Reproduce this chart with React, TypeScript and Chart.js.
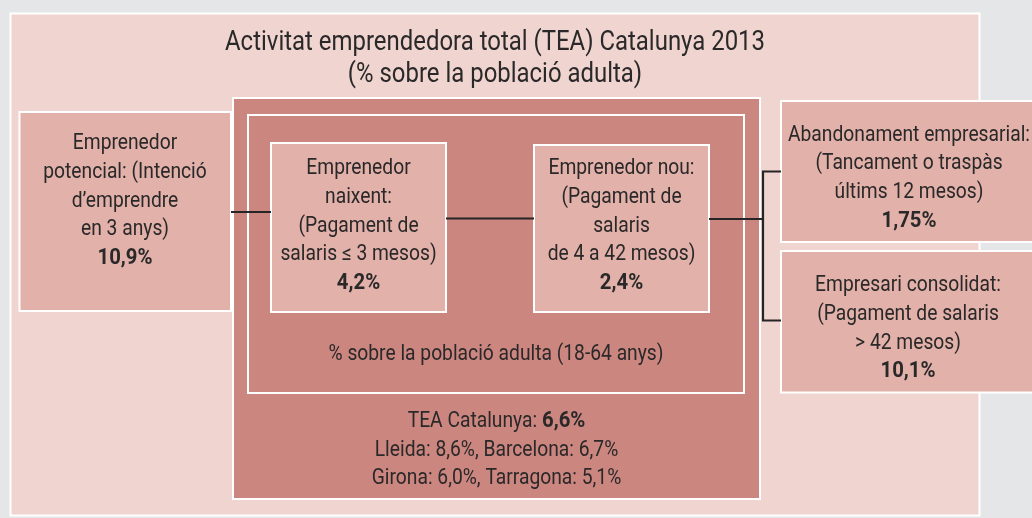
import React, { useEffect, useRef } from "react";
import { Chart, registerables } from "chart.js";

Chart.register(...registerables);

// ---------- data ----------
const titleLines = [
  "Activitat emprendedora total (TEA) Catalunya 2013",
  "(% sobre la població adulta)",
];
const potencialLines = ["Emprenedor", "potencial: (Intenció", "d\u2019emprendre", "en 3 anys)"];
const naixentLines = ["Emprenedor", "naixent:", "(Pagament de", "salaris \u2264 3 mesos)"];
const nouLines = ["Emprenedor nou:", "(Pagament de", "salaris", "de 4 a 42 mesos)"];
const abandonamentLines = ["Abandonament empresarial:", "(Tancament o traspàs", "últims 12 mesos)"];
const consolidatLines = ["Empresari consolidat:", "(Pagament de salaris", "> 42 mesos)"];
const stageNames = ["potencial", "naixent", "nou", "abandonament", "consolidat"];
const stageValues = [10.9, 4.2, 2.4, 1.75, 10.1];
const populationNote = "% sobre la població adulta (18-64 anys)";
const teaLabel = "TEA Catalunya: ";
const teaTotal = 6.6;
const provinces = ["Lleida", "Barcelona", "Girona", "Tarragona"];
const provinceValues = [8.6, 6.7, 6.0, 5.1];

// ---------- layout & style ----------
const W = 1032;
const H = 518;
const COLORS = {
  page: "#e5e6e8",
  light: "#efd4cf",
  mid: "#e1b1aa",
  dark: "#cc8680",
  border: "#ffffff",
  text: "#2a2828",
  line: "#262424",
};
const FONT = "Roboto, 'Liberation Sans', sans-serif";
const BOX_SIZE = 22;
const TITLE_SIZE = 28;
const LINE_GAP = 28.8;

type Box = { x0: number; y0: number; x1: number; y1: number; fill: string };
const boxes: Record<string, Box> = {
  outer: { x0: 10.5, y0: 13.5, x1: 979.5, y1: 515.5, fill: COLORS.light },
  tea: { x0: 233, y0: 98, x1: 760, y1: 499, fill: COLORS.dark },
  inner: { x0: 248, y0: 115, x1: 744, y1: 393, fill: COLORS.dark },
  potencial: { x0: 19.5, y0: 112, x1: 231, y1: 311, fill: COLORS.mid },
  naixent: { x0: 271, y0: 143, x1: 446, y1: 312, fill: COLORS.mid },
  nou: { x0: 534, y0: 145, x1: 709, y1: 312, fill: COLORS.mid },
  abandonament: { x0: 781, y0: 101, x1: 1045, y1: 242, fill: COLORS.mid },
  consolidat: { x0: 781, y0: 251, x1: 1045, y1: 392.5, fill: COLORS.mid },
};
const boxOrder = ["outer", "tea", "inner", "potencial", "naixent", "nou", "abandonament", "consolidat"];

const stageText: Record<string, { lines: string[]; cx: number; base: number }> = {
  potencial: { lines: potencialLines, cx: 125, base: 149 },
  naixent: { lines: naixentLines, cx: 358.5, base: 174 },
  nou: { lines: nouLines, cx: 621.5, base: 174 },
  abandonament: { lines: abandonamentLines, cx: 909, base: 140.5 },
  consolidat: { lines: consolidatLines, cx: 908, base: 291 },
};

// connectors: polylines in value space
const connectors: number[][][] = [
  [[231, 212], [271, 212]],
  [[446, 218.5], [534, 218.5]],
  [[709, 219], [763, 219]],
  [[781, 171.5], [763, 171.5], [763, 320.5], [781, 320.5]],
];

const fmt = (v: number) => {
  const d = Math.max(1, (String(v).split(".")[1] || "").length);
  return v.toFixed(d).replace(".", ",") + "%";
};

export default function App() {
  const ref = useRef<HTMLCanvasElement | null>(null);

  useEffect(() => {
    document.body.style.margin = "0";
    document.body.style.background = COLORS.page;
    const canvas = ref.current;
    if (!canvas) return;

    const diagramPlugin = {
      id: "teaDiagram",
      beforeDraw(chart: any) {
        const { ctx } = chart;
        ctx.save();
        ctx.fillStyle = COLORS.page;
        ctx.fillRect(0, 0, chart.width, chart.height);
        ctx.restore();
      },
      afterDraw(chart: any) {
        const { ctx } = chart;
        const xs = chart.scales.x;
        const ys = chart.scales.y;
        const px = (v: number) => xs.getPixelForValue(v);
        const py = (v: number) => ys.getPixelForValue(v);

        const regFont = (s: number) => `400 ${s}px ${FONT}`;
        const boldFont = (s: number) => `700 ${s}px ${FONT}`;

        ctx.save();
        ctx.font = regFont(BOX_SIZE);
        const sxReg = 242 / ctx.measureText(abandonamentLines[0]).width;
        ctx.font = boldFont(BOX_SIZE);
        const sxBold = 55 / ctx.measureText(fmt(stageValues[0])).width;
        ctx.font = regFont(TITLE_SIZE);
        const sxTitle = 540 / ctx.measureText(titleLines[0]).width;
        ctx.restore();

        // boxes
        boxOrder.forEach((k) => {
          const b = boxes[k];
          const x0 = px(b.x0), x1 = px(b.x1), y0 = py(b.y0), y1 = py(b.y1);
          ctx.save();
          ctx.fillStyle = b.fill;
          ctx.fillRect(x0, y0, x1 - x0, y1 - y0);
          ctx.strokeStyle = COLORS.border;
          ctx.lineWidth = 2;
          ctx.strokeRect(x0, y0, x1 - x0, y1 - y0);
          ctx.restore();
        });

        // connectors
        ctx.save();
        ctx.strokeStyle = COLORS.line;
        ctx.lineWidth = 2.2;
        connectors.forEach((pts) => {
          ctx.beginPath();
          pts.forEach((p, i) => {
            if (i === 0) ctx.moveTo(px(p[0]), py(p[1]));
            else ctx.lineTo(px(p[0]), py(p[1]));
          });
          ctx.stroke();
        });
        ctx.restore();

        const drawParts = (
          parts: { t: string; bold?: boolean }[],
          cx: number,
          base: number,
          size: number,
          sxR: number,
          sxB: number
        ) => {
          ctx.save();
          ctx.fillStyle = COLORS.text;
          ctx.textBaseline = "alphabetic";
          ctx.textAlign = "left";
          const widths = parts.map((p) => {
            ctx.font = p.bold ? boldFont(size) : regFont(size);
            return ctx.measureText(p.t).width * (p.bold ? sxB : sxR);
          });
          const total = widths.reduce((a, b) => a + b, 0);
          let x = px(cx) - total / 2;
          parts.forEach((p, i) => {
            ctx.font = p.bold ? boldFont(size) : regFont(size);
            ctx.save();
            ctx.translate(x, py(base));
            ctx.scale(p.bold ? sxB : sxR, 1);
            ctx.fillText(p.t, 0, 0);
            ctx.restore();
            x += widths[i];
          });
          ctx.restore();
        };

        // title
        drawParts([{ t: titleLines[0] }], 495, 49.5, TITLE_SIZE, sxTitle, sxTitle);
        drawParts([{ t: titleLines[1] }], 495, 81.5, TITLE_SIZE, sxTitle, sxTitle);

        // stage boxes
        stageNames.forEach((name, i) => {
          const st = stageText[name];
          st.lines.forEach((line, j) => {
            drawParts([{ t: line }], st.cx, st.base + j * LINE_GAP, BOX_SIZE, sxReg, sxBold);
          });
          drawParts(
            [{ t: fmt(stageValues[i]), bold: true }],
            st.cx,
            st.base + st.lines.length * LINE_GAP,
            BOX_SIZE,
            sxReg,
            sxBold
          );
        });

        // population note
        drawParts([{ t: populationNote }], 496, 360, BOX_SIZE, sxReg, sxBold);

        // TEA totals
        drawParts(
          [{ t: teaLabel }, { t: fmt(teaTotal), bold: true }],
          496.5, 427, BOX_SIZE, sxReg, sxBold
        );
        const provLine = (a: number, b: number) =>
          `${provinces[a]}: ${fmt(provinceValues[a])}, ${provinces[b]}: ${fmt(provinceValues[b])}`;
        drawParts([{ t: provLine(0, 1) }], 496.5, 455.5, BOX_SIZE, sxReg, sxBold);
        drawParts([{ t: provLine(2, 3) }], 496.5, 484, BOX_SIZE, sxReg, sxBold);
      },
    };

    const chart = new Chart(canvas, {
      type: "scatter",
      data: { datasets: [{ data: [], pointRadius: 0 }] },
      options: {
        responsive: false,
        animation: false,
        devicePixelRatio: 1,
        layout: { padding: 0 },
        plugins: { legend: { display: false }, tooltip: { enabled: false } },
        scales: {
          x: { type: "linear", min: 0, max: W, display: false },
          y: { type: "linear", min: 0, max: H, reverse: true, display: false },
        },
      },
      plugins: [diagramPlugin],
    });
    return () => chart.destroy();
  }, []);

  return (
    <div style={{ position: "fixed", left: 0, top: 0, width: W, height: H, background: COLORS.page }}>
      <canvas ref={ref} width={W} height={H} style={{ display: "block", width: W, height: H }} />
    </div>
  );
}
